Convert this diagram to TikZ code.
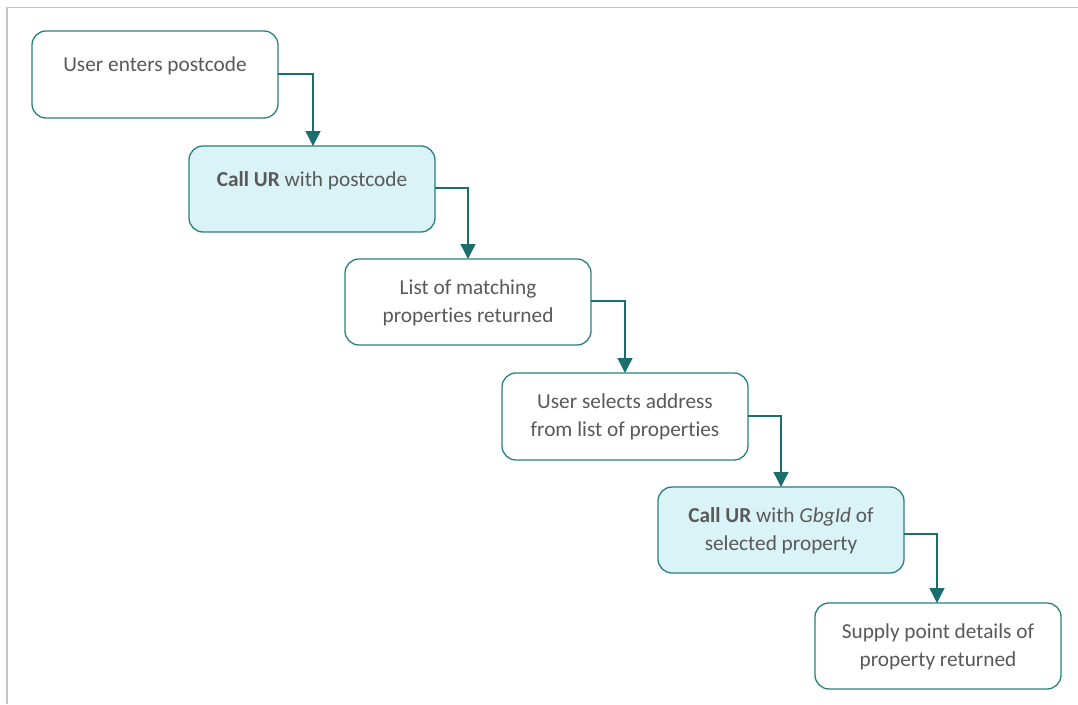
\documentclass[tikz,border=0pt]{standalone}
\usepackage{fontspec}
\setmainfont[Ligatures=NoCommon]{Carlito}
\usetikzlibrary{arrows.meta}
\definecolor{edge}{HTML}{2A7F80}
\definecolor{arrowc}{HTML}{1B6E6E}
\definecolor{cyanfill}{HTML}{DAF3F7}
\definecolor{txt}{HTML}{595959}
\definecolor{frame}{HTML}{C3C3C3}
\begin{document}
\begin{tikzpicture}[x=1pt,y=-1pt,
  stepbox/.style={draw=edge,line width=1.3pt,rounded corners=14pt,fill=white},
  callbox/.style={stepbox,fill=cyanfill},
  lbl/.style={text=txt,font=\fontsize{21.3}{28}\selectfont,align=center,inner sep=0pt},
  flow/.style={draw=arrowc,line width=1.3pt,-{Triangle[length=15pt,width=15pt]}}]
\useasboundingbox (0,0) rectangle (1078,704);
\draw[frame,line width=1.6pt] (7,704) -- (7,7.5) -- (1078,7.5);
% boxes
\path[stepbox] (32,31) rectangle (278,118); \coordinate (b1) at (155,74.5);
\path[callbox] (189,146) rectangle (435,232); \coordinate (b2) at (312,189);
\path[stepbox] (345,259) rectangle (591,345); \coordinate (b3) at (468,302);
\path[stepbox] (502,373) rectangle (748,460); \coordinate (b4) at (625,416.5);
\path[callbox] (658,487) rectangle (904,573); \coordinate (b5) at (781,530);
\path[stepbox] (815,603) rectangle (1061,689); \coordinate (b6) at (938,646);
% texts
\node[lbl] (t1) at (155,66) {User enters postcode};
\node[lbl] (t2) at (312,181) {\textbf{Call UR} with postcode};
\node[lbl] (t3) at (468,303) {List of matching\\properties returned};
\node[lbl] (t4) at (625,417) {User selects address\\from list of properties};
\node[lbl] (t5) at (781,531) {\textbf{Call UR} with \textit{GbgId} of\\selected property};
\node[lbl] (t6) at (938,647) {Supply point details of\\property returned};
% connectors
\coordinate (e1) at (278,74); \coordinate (n2) at (313,146);
\coordinate (e2) at (435,188); \coordinate (n3) at (468,259);
\coordinate (e3) at (591,301); \coordinate (n4) at (625,373);
\coordinate (e4) at (748,416); \coordinate (n5) at (781,487);
\coordinate (e5) at (904,534); \coordinate (n6) at (937,603);
\draw[flow] (e1) -| (n2);
\draw[flow] (e2) -| (n3);
\draw[flow] (e3) -| (n4);
\draw[flow] (e4) -| (n5);
\draw[flow] (e5) -| (n6);
\end{tikzpicture}
\end{document}
